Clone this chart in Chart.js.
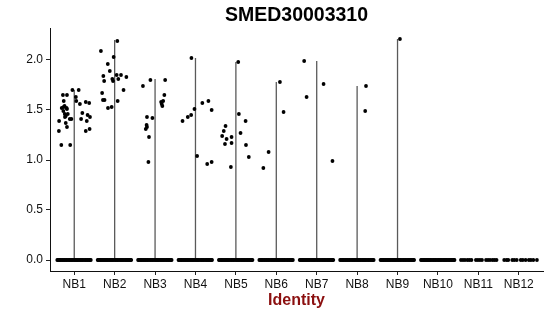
<!DOCTYPE html>
<html>
<head>
<meta charset="utf-8">
<script src="https://cdn.jsdelivr.net/npm/chart.js@4"></script>
<style>
  html, body { margin: 0; padding: 0; background: #fff; }
  #wrap { width: 550px; height: 316px; }
</style>
</head>
<body>
<div id="wrap"><canvas id="vln"></canvas></div>
<script>
const geneName = 'SMED30003310';
const categories = ['NB1', 'NB2', 'NB3', 'NB4', 'NB5', 'NB6', 'NB7', 'NB8', 'NB9', 'NB10', 'NB11', 'NB12'];
const yTicks = [0, 0.5, 1.0, 1.5, 2.0];

// top of each (very thin) violin = max expression in the cluster
const violinMax = [1.70, 2.20, 1.81, 2.02, 1.98, 1.78, 1.99, 1.74, 2.21, null, null, null];

// expressing cells: [jitter offset, expression]
const exprNB1 = [[-0.38,1.29],[-0.32,1.15],[-0.10,1.15],[-0.375,1.39],[-0.28,1.65],[-0.18,1.65],[-0.31,1.52],
  [-0.26,1.59],[-0.24,1.54],[-0.19,1.52],[-0.27,1.49],[-0.235,1.46],[-0.18,1.51],[-0.16,1.46],[-0.23,1.43],
  [-0.21,1.37],[-0.18,1.33],[-0.11,1.41],[-0.07,1.41],[-0.045,1.70],[0.04,1.63],[0.05,1.59],[0.11,1.70],
  [0.14,1.56],[0.17,1.41],[0.20,1.47],[0.285,1.58],[0.31,1.39],[0.37,1.57],[0.33,1.45],[0.39,1.43],
  [0.285,1.29],[0.38,1.31],[-0.26,1.53],[-0.21,1.44]];
const exprNB2 = [[-0.34,2.09],[0.066,2.19],[-0.17,1.96],[-0.025,2.03],[-0.12,1.89],[-0.31,1.67],[-0.28,1.84],
  [-0.26,1.79],[-0.29,1.60],[-0.25,1.60],[-0.165,1.52],[-0.074,1.53],[-0.058,1.81],[-0.04,1.79],[0.05,1.85],
  [0.09,1.81],[0.157,1.85],[0.29,1.83],[0.22,1.70],[0.074,1.59]];
const exprNB3 = [[-0.30,1.74],[-0.115,1.80],[-0.20,1.43],[-0.066,1.42],[-0.21,1.35],[-0.20,1.33],[-0.23,1.31],
  [-0.15,1.23],[-0.165,0.98],[0.25,1.80],[0.23,1.65],[0.20,1.59],[0.165,1.56],[0.18,1.54],[0.15,1.58]];
const exprNB4 = [[-0.10,2.02],[-0.025,1.51],[-0.19,1.43],[-0.107,1.45],[-0.32,1.39],[0.17,1.57],[0.32,1.59],
  [0.40,1.50],[0.04,1.04],[0.29,0.96],[0.40,0.98]];
const exprNB5 = [[0.058,1.98],[-0.256,1.34],[-0.30,1.29],[-0.34,1.24],[-0.23,1.21],[-0.107,1.23],[-0.27,1.16],
  [-0.107,1.17],[0.115,1.27],[0.074,1.46],[0.24,1.39],[0.25,1.15],[0.32,1.03],[-0.124,0.93]];
const exprNB6 = [[0.09,1.78],[0.18,1.48],[-0.19,1.08],[-0.32,0.92]];
const exprNB7 = [[-0.31,1.99],[0.17,1.76],[-0.25,1.63],[0.39,0.99]];
const exprNB8 = [[0.22,1.74],[0.20,1.49]];
const exprNB9 = [[0.06,2.21]];
const exprNB10 = [];
const exprNB11 = [];
const exprNB12 = [];
const expressed = [exprNB1, exprNB2, exprNB3, exprNB4, exprNB5, exprNB6, exprNB7, exprNB8, exprNB9, exprNB10, exprNB11, exprNB12];

// jitter offsets of the many zero-expression cells
const zeroDense = [-0.42,-0.40,-0.37,-0.35,-0.33,-0.30,-0.28,-0.25,-0.23,-0.20,-0.18,-0.15,-0.12,-0.10,-0.07,
  -0.05,-0.02,0.01,0.03,0.06,0.08,0.11,0.14,0.16,0.19,0.21,0.24,0.27,0.29,0.32,0.34,0.37,0.39,0.41];
const zeroNB11 = [-0.43,-0.38,-0.33,-0.27,-0.22,-0.17,-0.06,-0.01,0.04,0.09,0.19,0.24,0.29,0.35,0.40,0.45];
const zeroNB12 = [-0.36,-0.30,-0.26,-0.16,-0.11,-0.05,0.05,0.10,0.17,0.25,0.30,0.36,0.45];
const zeroJitter = [zeroDense, zeroDense, zeroDense, zeroDense, zeroDense, zeroDense, zeroDense, zeroDense, zeroDense, zeroDense, zeroNB11, zeroNB12];

const FONT = "'Liberation Sans', Arial, sans-serif";

const pointData = [];
expressed.forEach((pts, i) => pts.forEach(p => pointData.push({ x: i + p[0], y: p[1] })));
zeroJitter.forEach((offs, i) => offs.forEach(d => pointData.push({ x: i + d, y: 0 })));

const violinSets = [];
violinMax.forEach((m, i) => {
  if (m === null) return;
  violinSets.push({
    type: 'line',
    data: [{ x: i, y: 0 }, { x: i, y: m }],
    borderColor: '#5a5a5a',
    borderWidth: 1.3,
    pointRadius: 0,
    order: 2
  });
});

const titlePlugin = {
  id: 'panelTitle',
  afterDraw(chart) {
    const a = chart.chartArea;
    const ctx = chart.ctx;
    ctx.save();
    ctx.font = 'bold 19.5px ' + FONT;
    ctx.fillStyle = '#000';
    ctx.textAlign = 'center';
    ctx.textBaseline = 'middle';
    ctx.fillText(geneName, (a.left + a.right) / 2, 15.5);
    ctx.restore();
  }
};

new Chart(document.getElementById('vln'), {
  type: 'scatter',
  data: {
    datasets: [{
      data: pointData,
      backgroundColor: '#000',
      borderWidth: 0,
      pointRadius: 1.9,
      order: 1
    }].concat(violinSets)
  },
  options: {
    responsive: true,
    maintainAspectRatio: false,
    animation: false,
    layout: { padding: { top: 28, right: 7, left: 0, bottom: 0 } },
    plugins: { legend: { display: false }, tooltip: { enabled: false } },
    scales: {
      x: {
        type: 'linear',
        min: -0.6,
        max: 11.6,
        afterBuildTicks: s => { s.ticks = categories.map((c, i) => ({ value: i })); },
        afterFit: s => { s.height = 45; },
        ticks: {
          callback: v => categories[v],
          color: '#111',
          font: { family: FONT, size: 12 },
          padding: 2,
          maxRotation: 0
        },
        grid: { drawOnChartArea: false, drawTicks: true, tickLength: 4, color: '#222' },
        border: { display: true, color: '#111', width: 1 },
        title: {
          display: true,
          text: 'Identity',
          color: '#8b0f0f',
          font: { family: FONT, size: 16, weight: 'bold' },
          padding: { top: 0, bottom: 6 }
        }
      },
      y: {
        min: -0.11,
        max: 2.32,
        afterBuildTicks: s => { s.ticks = yTicks.map(v => ({ value: v })); },
        afterFit: s => { s.width = 50; },
        ticks: {
          callback: v => v.toFixed(1),
          color: '#111',
          font: { family: FONT, size: 12 },
          padding: 3
        },
        grid: { drawOnChartArea: false, drawTicks: true, tickLength: 4, color: '#222' },
        border: { display: true, color: '#111', width: 1 }
      }
    }
  },
  plugins: [titlePlugin]
});
</script>
</body>
</html>
